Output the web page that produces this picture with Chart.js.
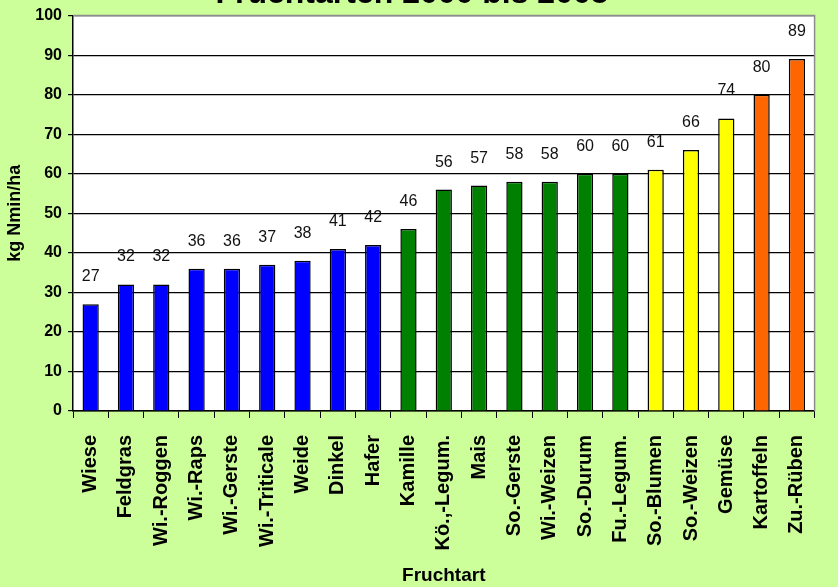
<!DOCTYPE html>
<html>
<head>
<meta charset="utf-8">
<script src="https://cdn.jsdelivr.net/npm/chart.js@4/dist/chart.umd.min.js"></script>
<style>
  html, body { margin: 0; padding: 0; background: #ccff99; }
  #wrap { width: 838px; height: 587px; }
</style>
</head>
<body>
<div id="wrap"><canvas id="chart"></canvas></div>
<script>
// Nmin values per crop, sorted ascending
const crops = ['Wiese', 'Feldgras', 'Wi.-Roggen', 'Wi.-Raps', 'Wi.-Gerste', 'Wi.-Triticale', 'Weide',
  'Dinkel', 'Hafer', 'Kamille', 'Kö.,-Legum.', 'Mais', 'So.-Gerste', 'Wi.-Weizen', 'So.-Durum',
  'Fu.-Legum.', 'So.-Blumen', 'So.-Weizen', 'Gemüse', 'Kartoffeln', 'Zu.-Rüben'];
const nmin = [27, 32, 32, 36, 36, 37, 38, 41, 42, 46, 56, 57, 58, 58, 60, 60, 61, 66, 74, 80, 89];
// crop group per bar: 0 = blue, 1 = green, 2 = yellow, 3 = orange
const groups = [0, 0, 0, 0, 0, 0, 0, 0, 0, 1, 1, 1, 1, 1, 1, 1, 2, 2, 2, 3, 3];
const groupColors = ['#0000ff', '#008000', '#ffff00', '#ff6600'];
const yTicks = [0, 10, 20, 30, 40, 50, 60, 70, 80, 90, 100];

const titleText = 'Fruchtarten 2000 bis 2005';
const FONT = '"Liberation Sans", Arial, sans-serif';

// title sits above the canvas edge, only its lower part shows
const titlePlugin = {
  id: 'topTitle',
  afterDraw(chart) {
    const ctx = chart.ctx;
    ctx.save();
    ctx.font = 'bold 32px ' + FONT;
    ctx.fillStyle = '#000';
    ctx.textAlign = 'center';
    ctx.textBaseline = 'alphabetic';
    ctx.fillText(titleText, 412, 3);
    ctx.restore();
  }
};

// white plot area and grey frame on top/right
const framePlugin = {
  id: 'frame',
  beforeDraw(chart) {
    const { left, top, right, bottom } = chart.chartArea;
    const ctx = chart.ctx;
    ctx.save();
    ctx.fillStyle = '#ccff99';
    ctx.fillRect(0, 0, chart.width, chart.height);
    ctx.fillStyle = '#ffffff';
    ctx.fillRect(left, top, right - left, bottom - top);
    ctx.restore();
  },
  afterDatasetsDraw(chart) {
    const { left, top, right, bottom } = chart.chartArea;
    const ctx = chart.ctx;
    ctx.save();
    ctx.strokeStyle = '#8c8c8c';
    ctx.lineWidth = 1.5;
    ctx.beginPath();
    ctx.moveTo(left, top);
    ctx.lineTo(right, top);
    ctx.lineTo(right, bottom);
    ctx.stroke();
    ctx.restore();
  }
};

// value above each bar
const valueLabels = {
  id: 'valueLabels',
  afterDatasetsDraw(chart) {
    const ctx = chart.ctx;
    const meta = chart.getDatasetMeta(0);
    ctx.save();
    ctx.font = '16px ' + FONT;
    ctx.fillStyle = '#111';
    ctx.textAlign = 'center';
    ctx.textBaseline = 'alphabetic';
    meta.data.forEach((bar, i) => {
      ctx.fillText(String(nmin[i]), bar.x, bar.y - 23);
    });
    ctx.restore();
  }
};

new Chart(document.getElementById('chart'), {
  type: 'bar',
  data: {
    labels: crops,
    datasets: [{
      data: nmin,
      backgroundColor: groups.map(g => groupColors[g]),
      borderColor: '#000',
      borderWidth: 1.5,
      barPercentage: 0.46,
      categoryPercentage: 1.0
    }]
  },
  options: {
    responsive: true,
    maintainAspectRatio: false,
    animation: false,
    layout: { padding: { top: 12, right: 3, left: 0, bottom: 0 } },
    plugins: {
      legend: { display: false },
      tooltip: { enabled: false }
    },
    scales: {
      x: {
        afterFit(scale) { scale.height = 176; },
        grid: {
          offset: true,
          drawOnChartArea: false,
          drawTicks: true,
          tickLength: 7,
          color: '#000'
        },
        border: { color: '#000', width: 1.5 },
        ticks: {
          autoSkip: false,
          minRotation: 90,
          maxRotation: 90,
          padding: 17,
          color: '#000',
          font: { family: FONT, size: 20, weight: 'bold' }
        },
        title: {
          display: true,
          text: 'Fruchtart',
          color: '#000',
          padding: { top: 0, bottom: 0 },
          font: { family: FONT, size: 19, weight: 'bold' }
        }
      },
      y: {
        min: 0,
        max: 100,
        afterFit(scale) { scale.width = 73; },
        afterBuildTicks(scale) { scale.ticks = yTicks.map(v => ({ value: v })); },
        grid: {
          color: '#000',
          lineWidth: 1.2,
          tickLength: 5
        },
        border: { color: '#000', width: 1.5 },
        ticks: {
          padding: 6,
          color: '#000',
          font: { family: FONT, size: 16, weight: 'bold' }
        },
        title: {
          display: true,
          text: 'kg Nmin/ha',
          color: '#000',
          padding: { top: 4, bottom: 0 },
          font: { family: FONT, size: 18, weight: 'bold' }
        }
      }
    }
  },
  plugins: [framePlugin, valueLabels, titlePlugin]
});
</script>
</body>
</html>
